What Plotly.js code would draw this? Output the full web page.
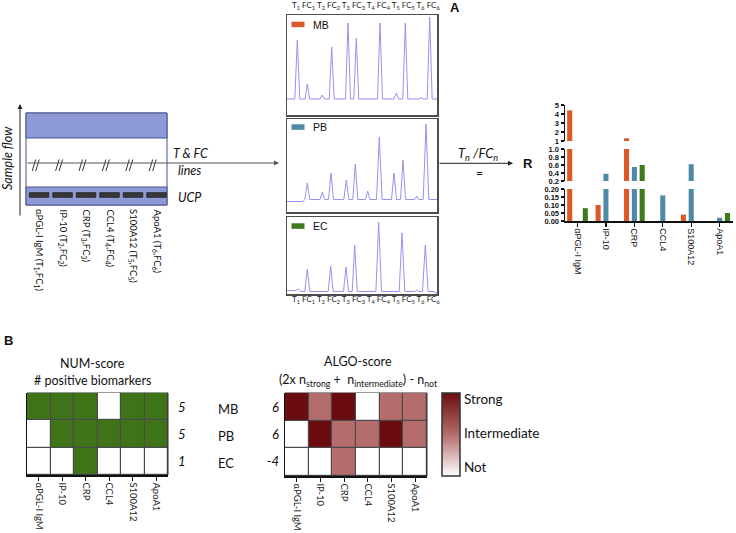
<!DOCTYPE html>
<html><head><meta charset="utf-8">
<script src="https://cdn.plot.ly/plotly-3.0.1.min.js"></script>
<style>html,body{margin:0;padding:0;background:#fff}#chart{width:736px;height:533px}</style>
</head><body><div id="chart"></div>
<script>
// ---------------- data ----------------
const biomarkers = ['αPGL-I IgM', 'IP-10', 'CRP', 'CCL4', 'S100A12', 'ApoA1'];
const groups = ['MB', 'PB', 'EC'];
const peakLabels = ['T<sub>1</sub>', 'FC<sub>1</sub>', 'T<sub>2</sub>', 'FC<sub>2</sub>', 'T<sub>3</sub>', 'FC<sub>3</sub>',
                    'T<sub>4</sub>', 'FC<sub>4</sub>', 'T<sub>5</sub>', 'FC<sub>5</sub>', 'T<sub>6</sub>', 'FC<sub>6</sub>'];

// R = Tn/FCn ratios per sample
const ratioMB = [4.4, 0.10, 1.3, null, 0.04, null];
const ratioPB = [null, 0.38, 0.55, 0.16, 0.62, 0.02];
const ratioEC = [0.08, null, 0.60, null, null, 0.05];

// chromatogram traces (position along strip, signal)
const mbX = [0, 7.8, 10.3, 12.8, 18, 20.3, 22.6, 33, 35.3, 37.6, 42.2, 44.7, 47.2, 58.5, 61, 63.5, 66.8, 69.3, 71.8, 90.5, 93, 95.5, 107, 109.3, 111.6, 115.8, 118.3, 120.8, 132, 134, 136, 140.2, 142.7, 145.2, 150];
const mbY = [16, 16, 75, 16, 16, 31, 16, 16, 20, 16, 16, 68, 16, 16, 92, 16, 16, 77, 16, 16, 92, 16, 16, 22, 16, 16, 92, 16, 16, 17.5, 16, 16, 98, 16, 16];
const pbX = [0, 16, 17.8, 20.3, 22.8, 33, 35.3, 37.6, 41.5, 44, 46.5, 56.8, 59.3, 61.8, 65.8, 68.3, 70.8, 78.4, 80.7, 83, 89.5, 92.3, 95.1, 104.5, 107, 109.5, 113.5, 116, 118.5, 127.7, 129.7, 131.7, 136.2, 139, 141.8, 150];
const pbY = [10.5, 10.5, 12.5, 29, 12.5, 12.5, 20, 12.5, 12.5, 39, 12.5, 12.5, 32, 12.5, 12.5, 48, 12.5, 12.5, 21, 12.5, 12.5, 75, 12.5, 12.5, 39, 12.5, 12.5, 52, 12.5, 12.5, 16, 12.5, 12.5, 88, 12.5, 12.5];
const ecX = [0, 8.5, 11.3, 14, 17.8, 20.3, 22.8, 26, 41.2, 43.7, 46.2, 56.5, 59, 61.5, 65.2, 67.7, 70.2, 88.9, 91.7, 94.5, 112.2, 115, 117.8, 127.7, 129.7, 131.7, 135.5, 138.3, 141.1, 147, 149.7, 150];
const ecY = [3.5, 3.5, 5, 2.5, 2.5, 25, 2.5, 2.5, 2.5, 28, 2.5, 2.5, 27, 2.5, 2.5, 49, 2.5, 2.5, 72, 2.5, 2.5, 61, 2.5, 2.5, 4, 2.5, 2.5, 49, 2.5, 2.5, 0.5, 0.5];

// NUM-score: positive (1) / negative (0)
const numMB = [1, 1, 1, 0, 1, 1];
const numPB = [0, 1, 1, 1, 1, 1];
const numEC = [0, 0, 1, 0, 0, 0];
const numScores = [5, 5, 1];
// ALGO-score: 0 = not, 1 = intermediate, 2 = strong
const algoMB = [2, 1, 2, 0, 1, 1];
const algoPB = [0, 2, 1, 1, 2, 1];
const algoEC = [0, 0, 1, 0, 0, 0];
const algoScores = [6, 6, -4];
const algoLevels = ['Not', 'Intermediate', 'Strong'];

// ---------------- helpers ----------------
const W = 736, H = 533;
const px = v => v / W;
const py = v => 1 - v / H;
const COL = {MB: '#db5926', PB: '#4e89a8', EC: '#3e791b'};
const SANS = 'Lato, sans-serif';
const ARIAL = 'Liberation Sans, Arial, sans-serif';

function ann(text, x, y, o = {}) {
  return Object.assign({text, x: px(x), y: py(y), xref: 'paper', yref: 'paper', showarrow: false,
    xanchor: 'center', yanchor: 'middle', font: {family: SANS, size: 12, color: '#111'}}, o);
}
function rect(x0, y0, x1, y1, fill, line, lw) {
  return {type: 'rect', xref: 'paper', yref: 'paper', x0: px(x0), x1: px(x1), y0: py(y0), y1: py(y1),
    fillcolor: fill, line: {color: line || 'rgba(0,0,0,0)', width: lw === undefined ? 1 : lw}};
}
function seg(x0, y0, x1, y1, color, w) {
  return {type: 'line', xref: 'paper', yref: 'paper', x0: px(x0), x1: px(x1), y0: py(y0), y1: py(y1),
    line: {color, width: w || 1}};
}
function arrow(x0, y0, x1, y1, color) {
  return {text: '', x: px(x1), y: py(y1), ax: px(x0), ay: py(y0), xref: 'paper', yref: 'paper',
    axref: 'paper', ayref: 'paper', showarrow: true, arrowhead: 2, arrowsize: 1, arrowwidth: 1,
    arrowcolor: color, standoff: 0, startstandoff: 0};
}

// ---------------- traces ----------------
const traces = [];
// broken-axis bar chart: same data in three stacked y ranges
['y', 'y2', 'y3'].forEach(ya => {
  [[ratioMB, 'MB'], [ratioPB, 'PB'], [ratioEC, 'EC']].forEach(([vals, g]) => {
    traces.push({type: 'bar', x: biomarkers, y: vals, name: g, xaxis: 'x', yaxis: ya,
      marker: {color: COL[g], line: {width: 0}}, hoverinfo: 'skip'});
  });
});
// chromatograms
[[mbX, mbY, '5'], [pbX, pbY, '6'], [ecX, ecY, '7']].forEach(([xs, ys, k]) => {
  traces.push({type: 'scatter', mode: 'lines', x: xs, y: ys, xaxis: 'x' + k, yaxis: 'y' + k,
    line: {color: '#9494f2', width: 1}, hoverinfo: 'skip'});
});
// heatmaps
traces.push({type: 'heatmap', x: biomarkers, y: groups, z: [numMB, numPB, numEC], xaxis: 'x8', yaxis: 'y8',
  zmin: 0, zmax: 1, colorscale: [[0, '#ffffff'], [1, '#3e7318']], showscale: false, xgap: 1.2, ygap: 1.2,
  hoverinfo: 'skip'});
traces.push({type: 'heatmap', x: biomarkers, y: groups, z: [algoMB, algoPB, algoEC], xaxis: 'x9', yaxis: 'y9',
  zmin: 0, zmax: 2, colorscale: [[0, '#ffffff'], [0.5, '#b46c6c'], [1, '#6a0c10']], xgap: 1.2, ygap: 1.2,
  hoverinfo: 'skip',
  colorbar: {x: px(442), xanchor: 'left', xpad: 0, y: py(434.5), yanchor: 'middle', ypad: 0,
    len: (476 - 393) / H, lenmode: 'fraction', thickness: 18, thicknessmode: 'pixels',
    outlinecolor: '#333', outlinewidth: 1.5, ticks: '',
    tickvals: [0.22, 1.04, 1.86], ticktext: algoLevels,
    tickfont: {family: SANS, size: 13.5, color: '#111'}}});

// ---------------- axes ----------------
const blank = {showgrid: false, zeroline: false, fixedrange: true};
const barY = {...blank, anchor: 'x', showline: true, linecolor: '#111', linewidth: 1.5, ticks: 'outside',
  ticklen: 3, tickwidth: 1.2, tickcolor: '#111',
  tickfont: {family: ARIAL, size: 7.5, color: '#111', weight: 'bold'}};
const chromX = {...blank, domain: [px(287), px(437)], range: [0, 150], showline: true, mirror: true,
  linecolor: '#4d4d4d', linewidth: 1.5, showticklabels: false, ticks: ''};
const chromY = {...blank, showline: true, mirror: true, linecolor: '#4d4d4d', linewidth: 1.5,
  showticklabels: false, ticks: ''};
const heatX = {...blank, type: 'category', showline: true, linecolor: '#111', linewidth: 1.5,
  ticks: 'outside', ticklen: 4, tickwidth: 1.2, tickcolor: '#111', tickangle: 90,
  tickfont: {family: SANS, size: 9.5, color: '#222'}};
const heatY = {...blank, type: 'category', autorange: 'reversed', showline: true, linecolor: '#111',
  linewidth: 1.5, showticklabels: false, ticks: ''};

const layout = {
  width: W, height: H, margin: {l: 0, r: 0, t: 0, b: 0},
  paper_bgcolor: '#fff', plot_bgcolor: '#fff', showlegend: false,
  barmode: 'group', bargap: 0.176, bargroupgap: 0.35,
  font: {family: SANS, color: '#111'},
  xaxis: {...blank, domain: [px(565), px(733)], type: 'category', range: [-0.44, 5.47], anchor: 'y',
    showline: true, linecolor: '#111', linewidth: 1.5, ticks: 'outside', ticklen: 4, tickwidth: 1.2,
    tickcolor: '#111', tickangle: 90, tickfont: {family: ARIAL, size: 9, color: '#111'}},
  yaxis: {...barY, domain: [py(221), py(189)], range: [0, 0.2], tickvals: [0, 0.05, 0.1, 0.15, 0.2], tickformat: '.2f'},
  yaxis2: {...barY, domain: [py(181), py(149)], range: [0.2, 1.0], tickvals: [0.2, 0.4, 0.6, 0.8, 1.0], tickformat: '.1f'},
  yaxis3: {...barY, domain: [py(141), py(105)], range: [1, 5], tickvals: [1, 2, 3, 4, 5]},
  xaxis5: {...chromX, anchor: 'y5'}, yaxis5: {...chromY, anchor: 'x5', domain: [py(115), py(15)], range: [0, 100]},
  xaxis6: {...chromX, anchor: 'y6'}, yaxis6: {...chromY, anchor: 'x6', domain: [py(212), py(119)], range: [0, 93]},
  xaxis7: {...chromX, anchor: 'y7'}, yaxis7: {...chromY, anchor: 'x7', domain: [py(294), py(217)], range: [0, 77]},
  xaxis8: {...heatX, anchor: 'y8', domain: [px(27), px(168)]},
  yaxis8: {...heatY, anchor: 'x8', domain: [py(475), py(393)]},
  xaxis9: {...heatX, anchor: 'y9', domain: [px(285), px(427)]},
  yaxis9: {...heatY, anchor: 'x9', domain: [py(476), py(393)]},
  shapes: [], annotations: []
};

// ---------------- strip diagram ----------------
const S = layout.shapes, A = layout.annotations;
S.push(rect(26, 113, 167, 205, '#ffffff', '#46508a', 1));
S.push(rect(26, 113, 167, 138, '#8e9ad6', '#4a5590', 1));
S.push(rect(26, 187, 167, 205, '#8e9ad6', '#4a5590', 1));
for (let i = 0; i < biomarkers.length; i++) {
  const x0 = 29.3 + i * 23.5;
  S.push(rect(x0, 192.7, x0 + 19.5, 197.3, '#383838', '#1e1e1e', 0.8));
  const xc = 36.7 + i * 23.4;
  S.push(seg(xc - 4.5, 171, xc - 1, 159.5, '#333', 1));
  S.push(seg(xc - 1, 171, xc + 2.5, 159.5, '#333', 1));
  A.push(ann(biomarkers[i] + ' (T<sub>' + (i + 1) + '</sub>,FC<sub>' + (i + 1) + '</sub>)', 39 + i * 23.5, 207,
    {textangle: 90, yanchor: 'top', font: {family: SANS, size: 9.5, color: '#111'}}));
}
A.push(arrow(26, 163, 279, 163, '#555'));
A.push(arrow(20, 217, 20, 104, '#222'));
A.push(ann('<i>Sample flow</i>', 8, 158, {textangle: -90, font: {family: SANS, size: 12.5, color: '#111'}}));
A.push(ann('<i>T &amp; FC</i>', 171, 153, {xanchor: 'left', font: {family: SANS, size: 12.5, color: '#111'}}));
A.push(ann('<i>lines</i>', 176, 171, {xanchor: 'left', font: {family: SANS, size: 12.5, color: '#111'}}));
A.push(ann('<i>UCP</i>', 176, 197, {xanchor: 'left', font: {family: SANS, size: 12.5, color: '#111'}}));

// ---------------- chromatogram decorations ----------------
A.push(ann(peakLabels.join(' '), 365.5, 6, {font: {family: SANS, size: 8, color: '#222'}}));
A.push(ann(peakLabels.join(' '), 365.5, 299, {font: {family: SANS, size: 8, color: '#222'}}));
[['MB', 21.7], ['PB', 124.3], ['EC', 223.3]].forEach(([g, y0]) => {
  S.push(rect(291.5, y0, 304.5, y0 + 5.5, COL[g], null, 0));
  A.push(ann(g, 311, y0 + 3, {xanchor: 'left', font: {family: ARIAL, size: 10.5, color: '#111'}}));
});

// ---------------- ratio arrow ----------------
A.push(arrow(438, 163.3, 513, 163.3, '#222'));
A.push(ann('<i>T<sub>n</sub> /FC<sub>n</sub></i>', 478, 154, {font: {family: SANS, size: 13, color: '#111'}}));
A.push(ann('=', 479, 172, {font: {family: SANS, size: 12, color: '#111'}}));
A.push(ann('<b>R</b>', 520.5, 163.5, {xanchor: 'left', font: {family: ARIAL, size: 13, color: '#111'}}));

// ---------------- panel labels ----------------
A.push(ann('<b>A</b>', 455, 8, {font: {family: ARIAL, size: 13, color: '#111'}}));
A.push(ann('<b>B</b>', 8, 341, {font: {family: ARIAL, size: 13, color: '#111'}}));

// ---------------- heatmap decorations ----------------
S.push({type: 'rect', xref: 'x8 domain', yref: 'y8 domain', x0: 0, x1: 1, y0: 0, y1: 1, layer: 'below',
  fillcolor: '#4a4a4a', line: {color: '#333', width: 1}});
S.push({type: 'rect', xref: 'x9 domain', yref: 'y9 domain', x0: 0, x1: 1, y0: 0, y1: 1, layer: 'below',
  fillcolor: '#4a4a4a', line: {color: '#333', width: 1}});
A.push(ann('NUM-score', 92, 363, {font: {family: SANS, size: 12.5, color: '#111'}}));
A.push(ann('# positive biomarkers', 92, 380.5, {font: {family: SANS, size: 12.5, color: '#111'}}));
A.push(ann('ALGO-score', 358, 362, {font: {family: SANS, size: 12.5, color: '#111'}}));
A.push(ann('(2x n<sub>strong</sub> +  n<sub>intermediate</sub>) - n<sub>not</sub>', 358, 380,
  {font: {family: SANS, size: 12.5, color: '#111'}}));
const rowY = [407, 434, 461];
groups.forEach((g, i) => {
  A.push(ann('<i>' + numScores[i] + '</i>', 176, rowY[i], {xanchor: 'left', font: {family: SANS, size: 13, color: '#111'}}));
  A.push(ann(g, 216, rowY[i] + 2, {xanchor: 'left', font: {family: SANS, size: 13, color: '#111'}}));
  A.push(ann('<i>' + algoScores[i] + '</i>', 281, rowY[i], {xanchor: 'right', font: {family: SANS, size: 13, color: '#111'}}));
});
// colourbar tick marks (between levels)
[413.75, 455.25].forEach(y => S.push(seg(456.5, y, 460, y, '#333', 1)));

Plotly.newPlot('chart', traces, layout, {staticPlot: true, displayModeBar: false});
</script>
</body></html>
